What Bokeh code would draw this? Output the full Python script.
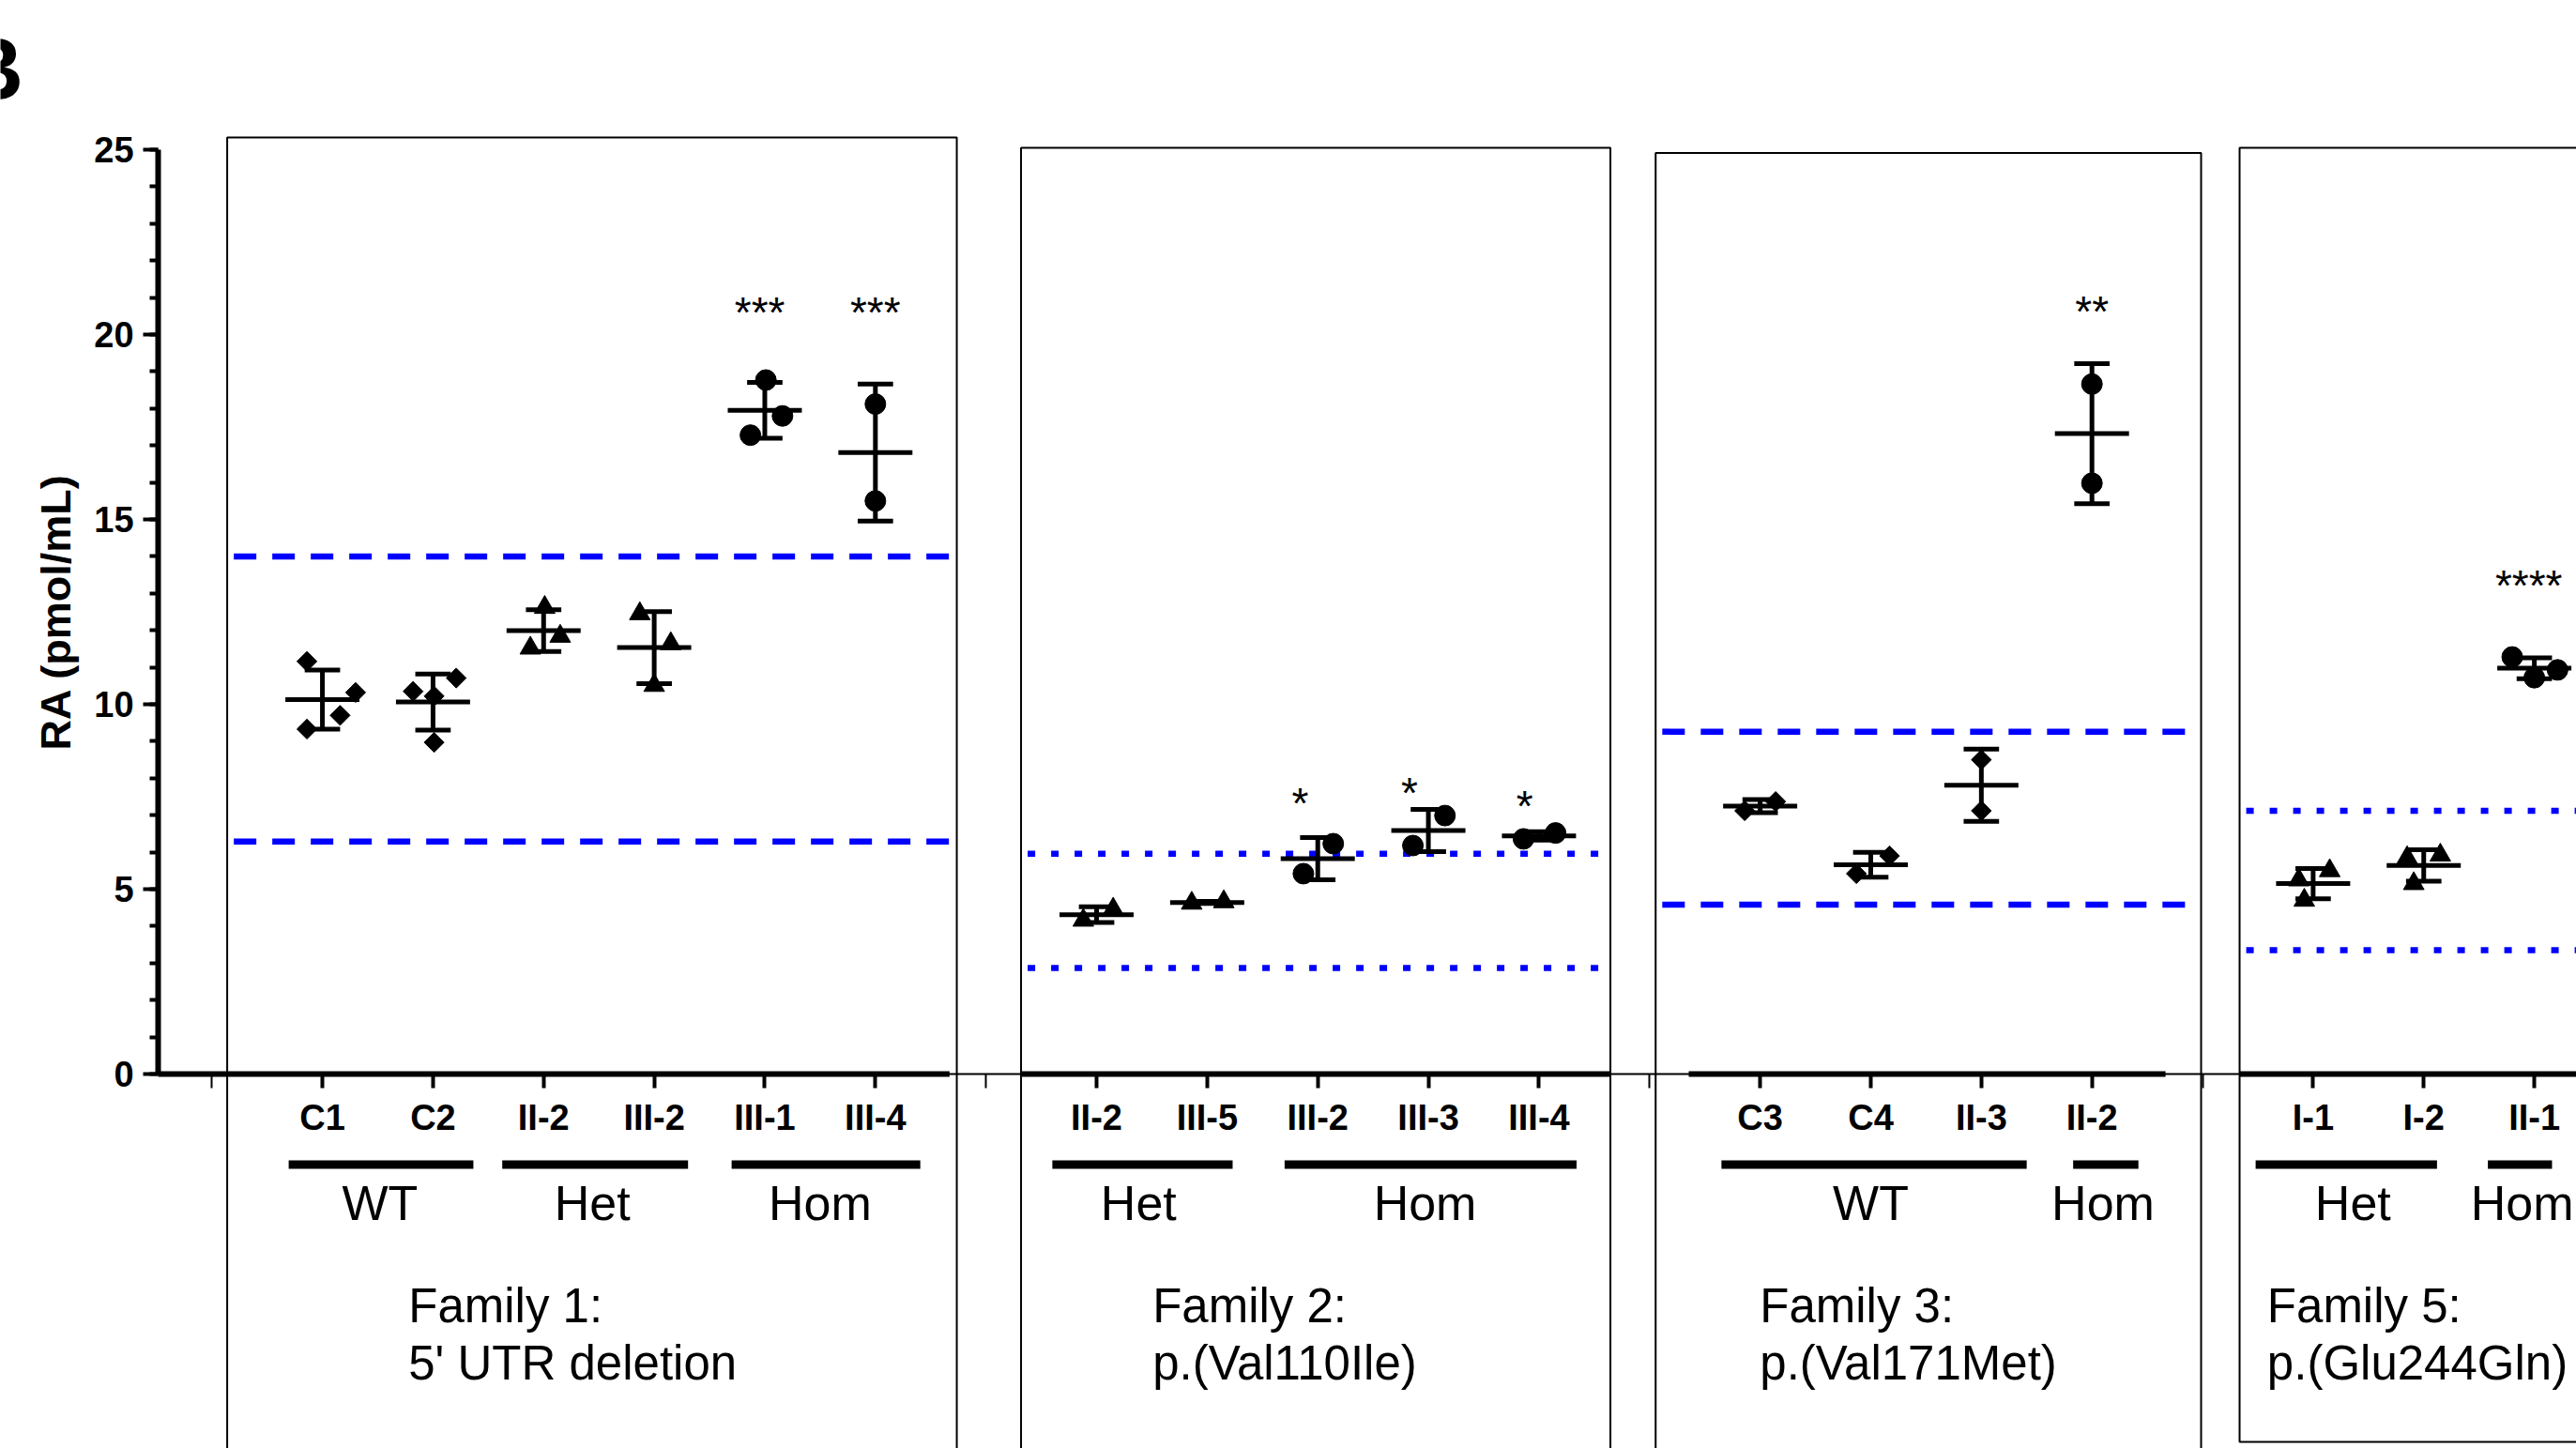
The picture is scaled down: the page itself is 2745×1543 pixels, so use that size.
import numpy as np
from bokeh.plotting import figure
from bokeh.models import LinearAxis, FixedTicker, Range1d, ColumnDataSource
from bokeh.core.properties import value
from bokeh.embed import file_html
from bokeh.resources import INLINE

FONT = "Liberation Sans"

# ---------------- data ----------------
cat_index = [1, 2, 3, 4, 5, 6, 8, 9, 10, 11, 12, 14, 15, 16, 17, 19, 20, 21]
cat_labels = ["C1", "C2", "II-2", "III-2", "III-1", "III-4",
              "II-2", "III-5", "III-2", "III-3", "III-4",
              "C3", "C4", "II-3", "II-2",
              "I-1", "I-2", "II-1"]
cat_genotype = ["WT", "WT", "Het", "Het", "Hom", "Hom",
                "Het", "Het", "Hom", "Hom", "Hom",
                "WT", "WT", "WT", "Hom",
                "Het", "Het", "Hom"]
cat_values = [
    [11.16, 10.32, 9.70, 9.33],
    [10.71, 10.35, 10.22, 8.97],
    [12.62, 11.84, 11.52],
    [12.45, 11.64, 10.51],
    [18.77, 17.80, 17.28],
    [18.12, 15.50],
    [4.16, 4.46],
    [4.62, 4.66],
    [5.42, 6.23],
    [6.18, 6.99],
    [6.36, 6.52],
    [7.12, 7.37],
    [5.42, 5.90],
    [8.50, 7.12],
    [18.66, 15.98],
    [4.70, 5.50, 5.25],
    [5.15, 5.85, 5.92],
    [11.28, 10.72, 10.93],
]
gap_index = [0, 7, 13, 18]
sig_index = [5, 6, 10, 11, 12, 17, 21]
sig_text = ["***", "***", "*", "*", "*", "**", "****"]
group_label = ["WT", "Het", "Hom", "Het", "Hom", "WT", "Hom", "Het", "Hom"]
group_first = [1, 3, 5, 8, 10, 14, 17, 19, 21]
group_last = [2, 4, 6, 9, 12, 16, 17, 20, 21]
family_title = ["Family 1:", "Family 2:", "Family 3:", "Family 5:"]
family_variant = ["5' UTR deletion", "p.(Val110Ile)", "p.(Val171Met)", "p.(Glu244Gln)"]
ref_low = [6.29, 2.87, 4.58, 3.35]
ref_high = [14.0, 5.96, 9.26, 7.12]
ref_style = ["dashed", "dotted", "dashed", "dotted"]
y_ticks = [0, 5, 10, 15, 20, 25]
y_label = "RA (pmol/mL)"
panel_letter = "B"

# ---------------- layout (positions / styles) ----------------
jitter = [
    [-0.14, 0.30, 0.16, -0.14],
    [0.21, -0.18, 0.01, 0.01],
    [0.01, 0.15, -0.12],
    [-0.13, 0.15, 0.0],
    [0.01, 0.16, -0.13],
    [0.0, 0.0],
    [-0.12, 0.15],
    [-0.14, 0.15],
    [-0.13, 0.14],
    [-0.14, 0.15],
    [-0.14, 0.15],
    [-0.14, 0.14],
    [-0.13, 0.17],
    [0.0, 0.0],
    [0.0, 0.0],
    [-0.08, 0.15, -0.13],
    [-0.09, -0.15, 0.15],
    [-0.20, 0.0, 0.21],
]
sig_dx = [-0.045, 0.0, -0.16, -0.17, -0.13, 0.0, -0.05]
sig_y = [20.60, 20.60, 7.33, 7.60, 7.25, 20.61, 13.20]
group_shift = [0.03, -0.034, 0.053, -0.085, 0.02, 0.03, 0.125, -0.2, -0.13]
group_pad = [0.335, 0.34, 0.353, 0.315, 0.32, 0.38, 0.295, 0.32, 0.29]
label_shift = [0.02, -0.06, 0.0, -0.12, -0.03, 0.0, 0.1, -0.14, -0.11]
GROUP_BAR_Y = -2.449
GROUP_LABEL_Y = -3.484
FAMILY_Y1 = -6.258
FAMILY_Y2 = -7.806
family_x = [1.778, 8.506, 13.997, 18.584]
panel_left = [0.139, 7.317, 13.055, 18.335]
panel_right = [6.736, 12.646, 17.987, 23.0]
panel_top = [25.33, 25.05, 24.91, 25.05]
panel_bottom = [-12.0, -12.0, -12.0, -9.95]
thick_start = [-0.485, 7.317, 13.354, 18.335]
thick_end = [6.67, 12.646, 17.665, 23.0]

Y_AXIS_X = -0.485
Y_TITLE_X = -1.414
MEAN_HALF = 0.335
CAP_HALF = 0.16
BLUE = "#0000ff"

marker_of = {"WT": "square", "Het": "triangle", "Hom": "circle"}
size_of = {"WT": 15, "Het": 22, "Hom": 22}
angle_of = {"WT": np.pi / 4, "Het": 0.0, "Hom": 0.0}

p = figure(width=2745, height=1543,
           x_range=Range1d(-1.911, 21.381), y_range=Range1d(-10.127, 29.036),
           x_axis_type=None, y_axis_type=None,
           toolbar_location=None, output_backend="svg",
           min_border=0, min_border_left=0, min_border_right=0,
           min_border_top=0, min_border_bottom=0)
p.outline_line_color = None
p.background_fill_color = "white"
p.border_fill_color = "white"

# panel boxes
p.quad(left=panel_left, right=panel_right, top=panel_top, bottom=panel_bottom,
       fill_color=None, line_color="black", line_width=2)

# reference ranges
for i in range(len(ref_low)):
    x0 = panel_left[i] + 0.06
    x1 = panel_right[i] - 0.02
    dash = "24 17" if ref_style[i] == "dashed" else "8 17"
    p.segment(x0=[x0, x0], x1=[x1, x1], y0=[ref_low[i], ref_high[i]],
              y1=[ref_low[i], ref_high[i]], line_color=BLUE, line_width=6.5,
              line_dash=dash)

# thick x-axis segments inside panels
p.segment(x0=thick_start, x1=thick_end, y0=[0] * 4, y1=[0] * 4,
          line_color="black", line_width=6)

# points, means and SD error bars
xs, ys, mk, sz, ang = [], [], [], [], []
mx0, mx1, my = [], [], []
ex, ey0, ey1 = [], [], []
cx0, cx1, cy = [], [], []
for idx, g, vals, jit in zip(cat_index, cat_genotype, cat_values, jitter):
    v = np.array(vals)
    m = v.mean()
    sd = v.std(ddof=1)
    for val, j in zip(vals, jit):
        xs.append(idx + j)
        ys.append(val)
        mk.append(marker_of[g])
        sz.append(size_of[g])
        ang.append(angle_of[g])
    mx0.append(idx - MEAN_HALF); mx1.append(idx + MEAN_HALF); my.append(m)
    ex.append(idx); ey0.append(m - sd); ey1.append(m + sd)
    cx0 += [idx - CAP_HALF, idx - CAP_HALF]
    cx1 += [idx + CAP_HALF, idx + CAP_HALF]
    cy += [m - sd, m + sd]

src = ColumnDataSource(dict(x=xs, y=ys, marker=mk, size=sz, angle=ang))
p.scatter(x="x", y="y", marker="marker", size="size", angle="angle", source=src,
          fill_color="black", line_color="black", line_width=1)
p.segment(x0=mx0, x1=mx1, y0=my, y1=my, line_color="black", line_width=5)
p.segment(x0=ex, x1=ex, y0=ey0, y1=ey1, line_color="black", line_width=5)
p.segment(x0=cx0, x1=cx1, y0=cy, y1=cy, line_color="black", line_width=5)

# significance stars
p.text(x=[i + d for i, d in zip(sig_index, sig_dx)], y=sig_y, text=sig_text,
       text_align="center", text_baseline="alphabetic",
       text_font=value(FONT), text_font_size="46px", text_color="black")

# group bars and labels
gx0 = [f - pd + s for f, pd, s in zip(group_first, group_pad, group_shift)]
gx1 = [l + pd + s for l, pd, s in zip(group_last, group_pad, group_shift)]
p.segment(x0=gx0, x1=gx1, y0=[GROUP_BAR_Y] * len(gx0), y1=[GROUP_BAR_Y] * len(gx0),
          line_color="black", line_width=9)
p.text(x=[(a + b) / 2 + s for a, b, s in zip(group_first, group_last, label_shift)],
       y=[GROUP_LABEL_Y] * len(group_label), text=group_label,
       text_align="center", text_baseline="alphabetic",
       text_font=value(FONT), text_font_size="52px", text_color="black")

# family labels
p.text(x=family_x, y=[FAMILY_Y1] * 4, text=family_title, text_align="left",
       text_baseline="alphabetic", text_font=value(FONT), text_font_size="51px",
       text_color="black")
p.text(x=family_x, y=[FAMILY_Y2] * 4, text=family_variant, text_align="left",
       text_baseline="alphabetic", text_font=value(FONT), text_font_size="51px",
       text_color="black")

# y-axis title and panel letter
p.text(x=[Y_TITLE_X], y=[12.5], text=[y_label], angle=np.pi / 2,
       text_align="center", text_baseline="alphabetic",
       text_font=value(FONT), text_font_style="bold", text_font_size="45px",
       text_color="black")
p.text(x=[-2.284], y=[27.2], text=[panel_letter], text_align="left",
       text_baseline="alphabetic", text_font=value(FONT), text_font_style="bold",
       text_font_size="95px", text_color="black")

# y axis
yaxis = LinearAxis(fixed_location=Y_AXIS_X, bounds=(0, 25),
                   ticker=FixedTicker(ticks=y_ticks, minor_ticks=list(range(0, 26))))
yaxis.axis_line_width = 6
yaxis.axis_line_color = "black"
yaxis.major_tick_line_width = 4
yaxis.minor_tick_line_width = 4
yaxis.major_tick_out = 16
yaxis.major_tick_in = 0
yaxis.minor_tick_out = 9
yaxis.minor_tick_in = 0
yaxis.major_label_standoff = 10
yaxis.major_label_text_font = FONT
yaxis.major_label_text_font_style = "bold"
yaxis.major_label_text_font_size = "38px"
yaxis.major_label_text_color = "black"
p.add_layout(yaxis, "left")

# x axis
xaxis = LinearAxis(fixed_location=0, bounds=(Y_AXIS_X, 23.0),
                   ticker=FixedTicker(ticks=cat_index, minor_ticks=gap_index))
xaxis.major_label_overrides = {i: lab for i, lab in zip(cat_index, cat_labels)}
xaxis.axis_line_width = 2
xaxis.axis_line_color = "black"
xaxis.major_tick_line_width = 4
xaxis.minor_tick_line_width = 2
xaxis.major_tick_out = 15
xaxis.major_tick_in = 0
xaxis.minor_tick_out = 15
xaxis.minor_tick_in = 0
xaxis.major_label_standoff = 10
xaxis.major_label_text_font = FONT
xaxis.major_label_text_font_style = "bold"
xaxis.major_label_text_font_size = "38px"
xaxis.major_label_text_color = "black"
p.add_layout(xaxis, "below")

open("out.html", "w").write(file_html(p, INLINE))
